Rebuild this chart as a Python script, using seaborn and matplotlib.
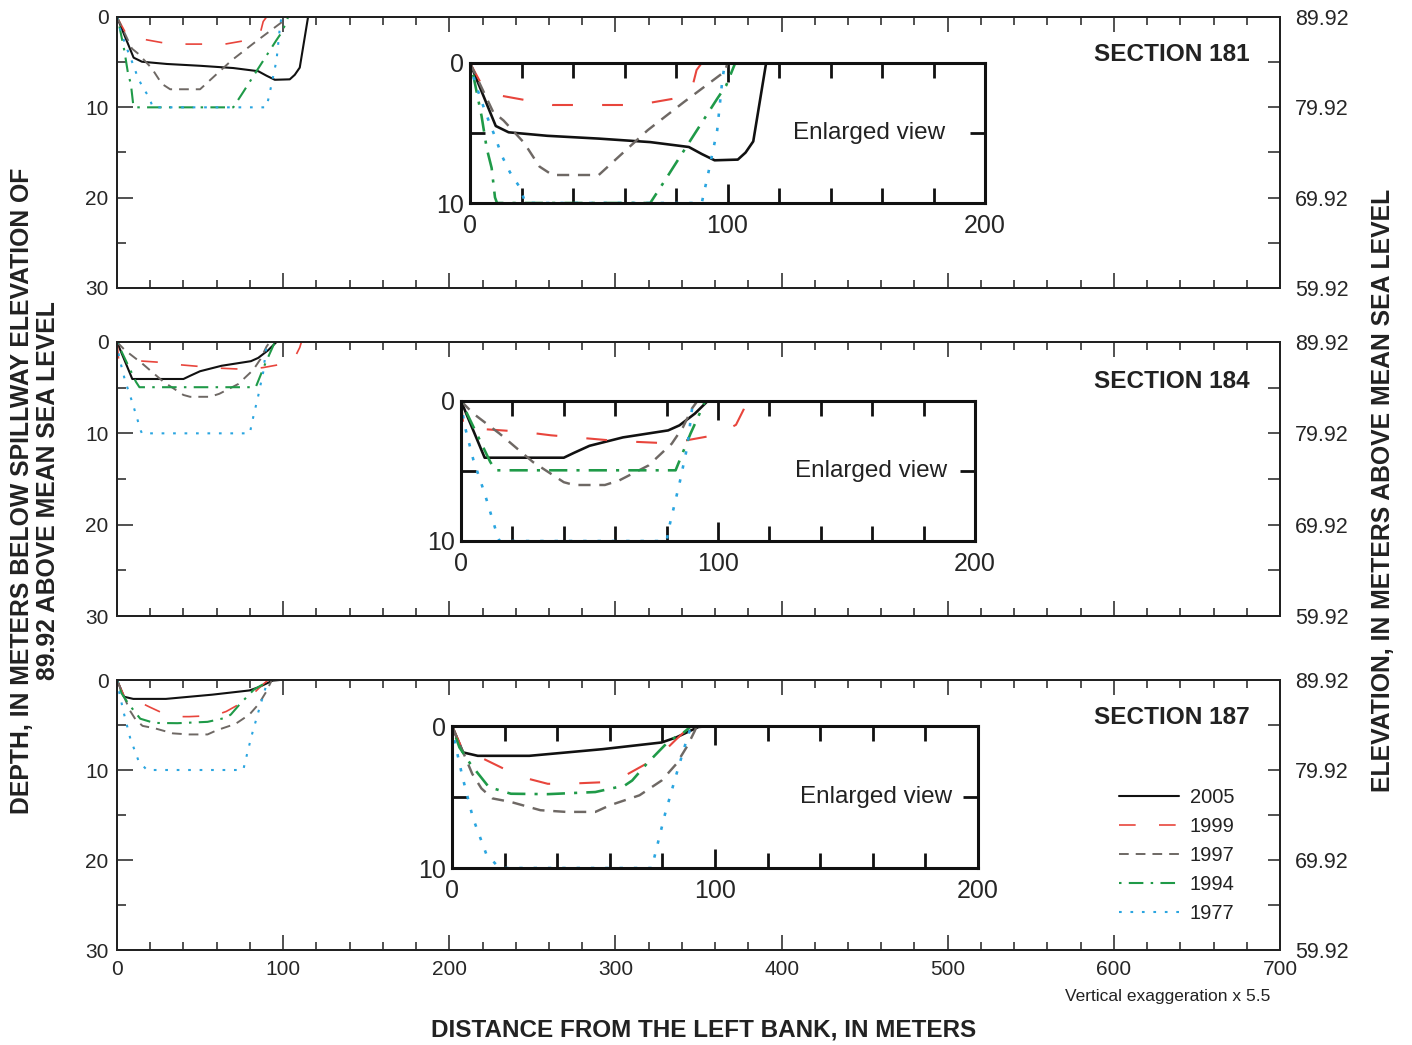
import numpy as np
import pandas as pd
import matplotlib
matplotlib.use("Agg")
import matplotlib.pyplot as plt
import seaborn as sns
from matplotlib.lines import Line2D
from matplotlib.ticker import MultipleLocator, FixedLocator

sns.set_theme(style="ticks")
plt.rcParams['font.family'] = ['Liberation Sans', 'DejaVu Sans']
plt.rcParams['axes.facecolor'] = 'white'

# ---------------- data (distance from left bank, m ; depth, m) ----------------
years = ["2005", "1999", "1997", "1994", "1977"]

# Section 181
s181_2005_x = [0, 10, 15, 30, 50, 70, 85, 90, 95, 104, 107, 110, 115]
s181_2005_d = [0, 4.5, 4.95, 5.2, 5.4, 5.65, 6.0, 6.5, 6.95, 6.9, 6.4, 5.6, 0]
s181_1999_x = [0, 5, 8, 20, 32, 50, 65, 79, 86, 88, 90]
s181_1999_d = [0, 1.7, 2.2, 2.6, 3.0, 3.0, 3.0, 2.55, 1.95, 0.5, 0]
s181_1997_x = [0, 9, 13, 17, 21, 27, 32, 50, 69, 83, 99, 100]
s181_1997_d = [0, 3.5, 4.1, 4.9, 5.7, 7.4, 8.0, 8.0, 4.8, 2.8, 0.6, 0]
s181_1994_x = [0, 1.3, 4.5, 6.5, 8.4, 9.7, 10.5, 70, 76, 85, 96, 99.5, 103]
s181_1994_d = [0, 0.9, 3.8, 6.1, 7.5, 9.6, 10, 10, 8.3, 5.7, 2.55, 1.6, 0]
s181_1977_x = [0, 2, 4.5, 7, 10, 12.3, 15.5, 19.4, 21.5, 90, 92.5, 96, 98, 99]
s181_1977_d = [0, 1.4, 2.75, 4.0, 5.4, 6.6, 7.8, 8.9, 10, 10, 7.9, 4.8, 1.2, 0]

# Section 184
s184_2005_x = [0, 9.2, 40, 44, 50, 63, 80.6, 85, 91, 96]
s184_2005_d = [0, 4.05, 4.05, 3.7, 3.2, 2.6, 2.1, 1.74, 0.9, 0]
s184_1999_x = [0, 1, 8, 24, 35, 51, 61, 78, 88, 100, 103, 107, 110, 111]
s184_1999_d = [0, 1.9, 2.0, 2.2, 2.45, 2.7, 2.86, 3.0, 2.8, 2.4, 2.1, 1.7, 0.6, 0]
s184_1997_x = [0, 4.8, 15, 28, 40, 44, 56, 61.6, 73, 82, 86.4, 90, 92]
s184_1997_d = [0, 0.9, 2.33, 4.36, 5.8, 6.0, 6.0, 5.67, 4.6, 3.05, 1.86, 0.5, 0]
s184_1994_x = [0, 11.4, 13.5, 83.5, 86.4, 89.3, 93.7, 95]
s184_1994_d = [0, 4.36, 4.95, 4.95, 3.64, 2.33, 0.55, 0]
s184_1977_x = [0, 1.2, 4.8, 9.2, 14.3, 15, 80, 81, 85, 88, 90, 91]
s184_1977_d = [0, 1.6, 4.2, 6.6, 9.7, 10, 10, 9, 5.9, 3.3, 0.4, 0]

# Section 187
s187_2005_x = [0, 4.2, 9.8, 29.4, 57.3, 79.7, 85.3, 93.7, 98]
s187_2005_d = [0, 1.86, 2.1, 2.1, 1.63, 1.16, 0.8, 0.07, 0]
s187_1999_x = [0, 4.2, 7, 19.6, 26.6, 36.4, 43.4, 58.7, 65.7, 78.3, 85.3, 88, 91]
s187_1999_d = [0, 1.74, 1.86, 3.0, 3.6, 4.07, 4.07, 3.95, 3.5, 2.2, 0.93, 0.47, 0]
s187_1997_x = [0, 7.7, 11.2, 15.4, 22.4, 33.6, 43.4, 54.5, 60.1, 71.3, 79.7, 85.3, 89.5, 92.3, 93]
s187_1997_d = [0, 3.37, 4.4, 5.1, 5.35, 5.93, 6.05, 6.05, 5.58, 4.88, 3.84, 2.67, 1.4, 0.35, 0]
s187_1994_x = [0, 2.8, 7, 14, 22.4, 36.4, 54.5, 65.7, 68.5, 74, 82.5, 88, 91]
s187_1994_d = [0, 1.5, 2.67, 4.3, 4.77, 4.8, 4.65, 4.19, 3.84, 2.67, 1.05, 0.47, 0]
s187_1977_x = [0, 1.5, 4, 8, 13, 18, 76, 77, 81, 85, 89.5, 91]
s187_1977_d = [0, 1.5, 3.6, 6.5, 9.0, 10, 10, 9.2, 6.2, 3.6, 0.8, 0]

sections = {
    "181": {"2005": (s181_2005_x, s181_2005_d), "1999": (s181_1999_x, s181_1999_d),
            "1997": (s181_1997_x, s181_1997_d), "1994": (s181_1994_x, s181_1994_d),
            "1977": (s181_1977_x, s181_1977_d)},
    "184": {"2005": (s184_2005_x, s184_2005_d), "1999": (s184_1999_x, s184_1999_d),
            "1997": (s184_1997_x, s184_1997_d), "1994": (s184_1994_x, s184_1994_d),
            "1977": (s184_1977_x, s184_1977_d)},
    "187": {"2005": (s187_2005_x, s187_2005_d), "1999": (s187_1999_x, s187_1999_d),
            "1997": (s187_1997_x, s187_1997_d), "1994": (s187_1994_x, s187_1994_d),
            "1977": (s187_1977_x, s187_1977_d)},
}

def frame(sec):
    rows = []
    for y in years:
        xs, ds = sections[sec][y]
        for i, (xv, dv) in enumerate(zip(xs, ds)):
            rows.append({"year": y, "order": i, "dist": xv, "depth": dv})
    return pd.DataFrame(rows)

# ---------------- styles ----------------
palette = {"2005": "#111111", "1999": "#e8453c", "1997": "#6e6864",
           "1994": "#1f9a48", "1977": "#2aa5e0"}
dashes = {"2005": "", "1999": (10, 14), "1997": (5, 3.6),
          "1994": (1.2, 3.5, 7, 3.5), "1977": (1.3, 4.2)}
sizes = {"2005": 1.5, "1999": 1.2, "1997": 1.4, "1994": 1.5, "1977": 1.5}

W, H = 1412, 1045
def box(l, t, r, b):
    return [l / W, 1 - b / H, (r - l) / W, (b - t) / H]
def fx(x):
    return x / W
def fy(y):
    return 1 - y / H

fig = plt.figure(figsize=(W / 100, H / 100), dpi=100)
fig.patch.set_facecolor("white")

main_boxes = [box(117, 17, 1280, 288), box(117, 342, 1280, 616), box(117, 680, 1280, 950)]
inset_boxes = [box(470, 63, 985, 203), box(461, 401, 975, 541), box(452, 726, 978, 868)]
sec_names = ["181", "184", "187"]
sec_text_y = [55, 381, 717]
enl_x = [184.5, 189, 190]

def draw(ax, df, scale=1.0):
    sns.lineplot(data=df, x="dist", y="depth", hue="year", style="year", size="year",
                 hue_order=years, style_order=years, size_order=years,
                 palette=palette, dashes=dashes,
                 sizes={k: v * scale for k, v in sizes.items()},
                 sort=False, estimator=None, units="year", legend=False, ax=ax)
    ax.set_xlabel("")
    ax.set_ylabel("")

for i, sec in enumerate(sec_names):
    df = frame(sec)
    ax = fig.add_axes(main_boxes[i])
    draw(ax, df)
    ax.set_xlim(0, 700)
    ax.set_ylim(30, 0)
    for s in ax.spines.values():
        s.set_visible(True)
        s.set_linewidth(1.4)
        s.set_color("#222222")
    ax.xaxis.set_major_locator(MultipleLocator(100))
    ax.xaxis.set_minor_locator(MultipleLocator(20))
    ax.yaxis.set_major_locator(FixedLocator([0, 10, 20, 30]))
    ax.yaxis.set_minor_locator(FixedLocator([5, 15, 25]))
    ax.tick_params(axis="x", which="both", direction="in", top=True, bottom=True,
                   labelbottom=(i == 2), labelsize=15, pad=7, color="#222222", width=1.1)
    ax.tick_params(axis="x", which="major", length=11)
    ax.tick_params(axis="x", which="minor", length=6)
    ax.tick_params(axis="y", which="both", direction="in", left=True, right=False,
                   labelsize=15, pad=6, color="#222222", width=1.1)
    ax.tick_params(axis="y", which="major", length=11.5)
    ax.tick_params(axis="y", which="minor", length=6.5)
    ax.set_yticklabels(["0", "10", "20", "30"])
    ax.grid(False)

    ax2 = ax.twinx()
    ax2.set_ylim(59.92, 89.92)
    ax2.yaxis.set_major_locator(FixedLocator([59.92, 69.92, 79.92, 89.92]))
    ax2.yaxis.set_minor_locator(FixedLocator([64.92, 74.92, 84.92]))
    ax2.set_yticklabels(["59.92", "69.92", "79.92", "89.92"])
    ax2.tick_params(axis="y", which="both", direction="in", right=True, length=8.5,
                    width=1.1, labelsize=15.5, pad=11, color="#222222")
    ax2.grid(False)
    for s in ax2.spines.values():
        s.set_linewidth(1.4)
        s.set_color("#222222")

    fig.text(fx(1250), fy(sec_text_y[i]), "SECTION " + sec, ha="right", va="center",
             fontsize=17.6, fontweight="bold", color="#222222")

    # inset enlarged view
    axi = fig.add_axes(inset_boxes[i])
    axi.set_facecolor("white")
    draw(axi, df, scale=1.25)
    axi.set_xlim(0, 200)
    axi.set_ylim(10, 0)
    for s in axi.spines.values():
        s.set_visible(True)
        s.set_linewidth(2.2)
        s.set_color("#111111")
    axi.xaxis.set_major_locator(FixedLocator([0, 100, 200]))
    axi.xaxis.set_minor_locator(FixedLocator([20, 40, 60, 80, 120, 140, 160, 180]))
    axi.yaxis.set_major_locator(FixedLocator([0, 10]))
    axi.yaxis.set_minor_locator(FixedLocator([5]))
    axi.tick_params(axis="x", which="both", direction="in", top=True, bottom=True,
                    labelsize=18, pad=8, width=2, color="#111111")
    axi.tick_params(axis="x", which="major", length=14)
    axi.tick_params(axis="x", which="minor", length=10.5)
    axi.tick_params(axis="y", which="both", direction="in", left=True, right=True,
                    labelsize=18, pad=4, width=2, color="#111111")
    axi.tick_params(axis="y", which="major", length=0)
    axi.tick_params(axis="y", which="minor", length=10.5)
    axi.set_xticklabels(["0", "100", "200"])
    axi.set_yticklabels(["0", "10"])
    axi.grid(False)
    axi.text(enl_x[i], 5, "Enlarged view", ha="right", va="center", fontsize=17.5,
             color="#222222")

    if i == 2:
        handles = []
        for y in years:
            h = Line2D([0], [0], color=palette[y], lw=sizes[y])
            if dashes[y]:
                h.set_dashes(dashes[y])
            handles.append(h)
        leg = ax.legend(handles, years, loc="upper left", frameon=False,
                        bbox_to_anchor=(fx(1113), fy(782)), bbox_transform=fig.transFigure,
                        fontsize=14.5, handlelength=3.0, handletextpad=0.5,
                        labelspacing=0.5, borderaxespad=0, borderpad=0.3)
        for t in leg.get_texts():
            t.set_color("#222222")

fig.text(fx(1270), fy(996), "Vertical exaggeration x 5.5", ha="right", va="center",
         fontsize=12.5, color="#222222")
fig.text(fx(704), fy(1030), "DISTANCE FROM THE LEFT BANK, IN METERS", ha="center",
         va="center", fontsize=17.5, fontweight="bold", color="#222222")
fig.text(fx(35), fy(491),
         "DEPTH, IN METERS BELOW SPILLWAY ELEVATION OF\n89.92 ABOVE MEAN SEA LEVEL",
         ha="center", va="center", rotation=90, fontsize=17.8, fontweight="bold",
         multialignment="center", linespacing=1.1, color="#222222")
fig.text(fx(1383), fy(490), "ELEVATION, IN METERS ABOVE MEAN SEA LEVEL", ha="center",
         va="center", rotation=90, fontsize=17.8, fontweight="bold", color="#222222")

fig.savefig("out.png", dpi=100, facecolor="white")
